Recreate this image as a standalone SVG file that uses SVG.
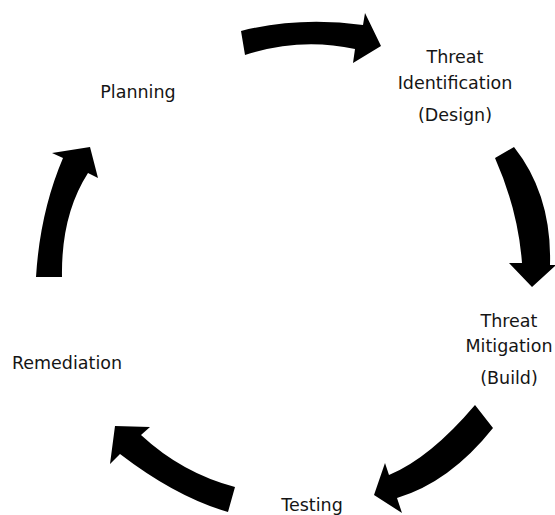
<svg xmlns="http://www.w3.org/2000/svg" width="555" height="515" viewBox="0 0 555 515">
<style>
.lbl{font-family:"DejaVu Sans","Liberation Sans",sans-serif;font-size:17.5px;fill:#151515;text-anchor:middle}
.arr{fill:#000;stroke:none}
</style>
<rect width="555" height="515" fill="#fff"/>
<g id="connectors">
<path class="arr" d="M241,31 Q300,16 363,25 L365,13 L381,46 L353,63 L355,49 Q300,37 245,55 Z"/>
<path class="arr" d="M495,158 Q518,210 522,263 L509,263 L532,287 L556,265 L550,265 Q552,195 514,147 Z"/>
<path class="arr" d="M475,405 Q430,458 389,475 L385,463 L374,495 L402,513 L397,498 Q450,482 493,428 Z"/>
<path class="arr" d="M141,435 L150,427 L115,426 L110,464 L120,454 Q176,497 228,512 L235,487 Q182,473 141,435 Z"/>
<path class="arr" d="M36,277 Q40,212 63,158 L52,153 L90,147 L98,178 L88,173 Q61,215 62,277 Z"/>
</g>
<g id="planning"><text class="lbl" x="138" y="98">Planning</text></g>
<g id="threat-identification">
<text class="lbl" x="455" y="63">Threat</text>
<text class="lbl" x="455" y="89">Identification</text>
<text class="lbl" x="455" y="121">(Design)</text>
</g>
<g id="threat-mitigation">
<text class="lbl" x="509" y="327">Threat</text>
<text class="lbl" x="509" y="352">Mitigation</text>
<text class="lbl" x="509" y="384">(Build)</text>
</g>
<g id="testing"><text class="lbl" x="312" y="511">Testing</text></g>
<g id="remediation"><text class="lbl" x="67" y="369">Remediation</text></g>
</svg>
